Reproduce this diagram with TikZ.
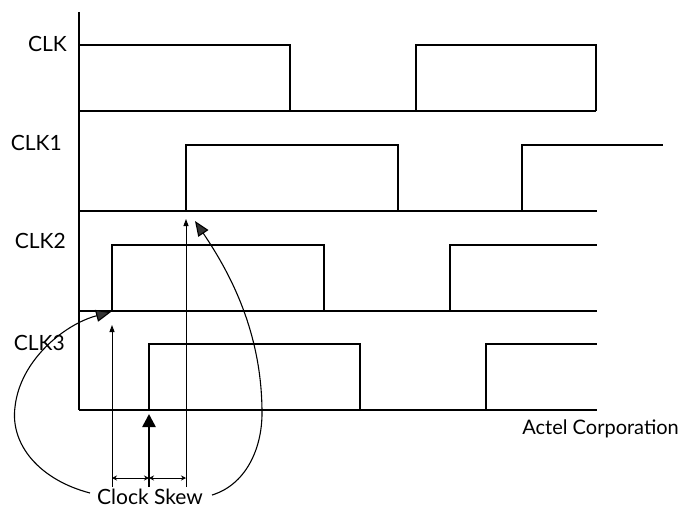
\documentclass[tikz,border=0pt]{standalone}
\usepackage{fontspec}
\setmainfont{Lato}
\usetikzlibrary{arrows.meta}
\begin{document}
\begin{tikzpicture}[x=1pt,y=-1pt,
  wave/.style={line width=1.6pt,line join=miter},
  lab/.style={font=\fontsize{21}{23}\selectfont,inner sep=0pt,anchor=base east},
  thinarr/.style={line width=0.9pt,-{Triangle[width=5pt,length=7pt]}},
  dimarr/.style={line width=0.9pt,{Stealth[width=5pt,length=5pt]}-{Stealth[width=5pt,length=5pt]}},
  thickarr/.style={line width=2.6pt,-{Triangle[width=13pt,length=13pt]}},
  curvarr/.style={line width=1.1pt,-{Triangle[width=12pt,length=15pt,fill=black!80]}}]
\useasboundingbox (0,0) rectangle (682,508);
% axis
\draw[wave] (79,12) -- (79,410);
% CLK
\draw[wave] (79,45) -- (290,45) -- (290,111);
\draw[wave] (416,111) -- (416,45) -- (596,45) -- (596,111);
\draw[wave] (79,111) -- (596,111);
% CLK1
\draw[wave] (186,211) -- (186,145) -- (398,145) -- (398,211);
\draw[wave] (522,211) -- (522,145) -- (663,145);
\draw[wave] (79,211) -- (597,211);
% CLK2
\draw[wave] (112,311) -- (112,245) -- (324,245) -- (324,311);
\draw[wave] (450,311) -- (450,245) -- (597,245);
\draw[wave] (79,311) -- (597,311);
% CLK3
\draw[wave] (149,410) -- (149,344) -- (360,344) -- (360,410);
\draw[wave] (486,410) -- (486,344) -- (597,344);
\draw[wave] (79,410) -- (597,410);
% labels
\node[lab] (lclk) at (67,52) {CLK};
\node[lab] (lclk1) at (62,150) {CLK1};
\node[lab] (lclk2) at (66,248) {CLK2};
\node[lab] (lclk3) at (65,350) {CLK3};
\node[font=\fontsize{20}{22}\selectfont,inner sep=0pt,anchor=base east] (actel) at (679,434) {Actel Corporation};
\node[font=\fontsize{21}{23}\selectfont,inner sep=0pt,anchor=base] (skew) at (150,504) {Clock Skew};
% skew markers
\coordinate (a1) at (112,487); \coordinate (a1t) at (112,325);
\coordinate (a2) at (186,487); \coordinate (a2t) at (186,219);
\coordinate (a3) at (149,487); \coordinate (a3t) at (149,414);
\draw[thinarr] (a1) -- (a1t);
\draw[thinarr] (a2) -- (a2t);
\draw[thickarr] (a3) -- (a3t);
\draw[dimarr] (112,478) -- (149,478);
\draw[dimarr] (149,478) -- (186,478);
% curved arrows
\coordinate (cl) at (90,493);
\coordinate (cr) at (212,495);
\draw[curvarr] (cl) .. controls (40,480) and (10,445) .. (15,407) .. controls (20,360) and (65,324) .. (111,312);
\draw[curvarr] (cr) .. controls (245,485) and (262,450) .. (262,413) .. controls (262,330) and (228,270) .. (195,221);
\end{tikzpicture}
\end{document}
